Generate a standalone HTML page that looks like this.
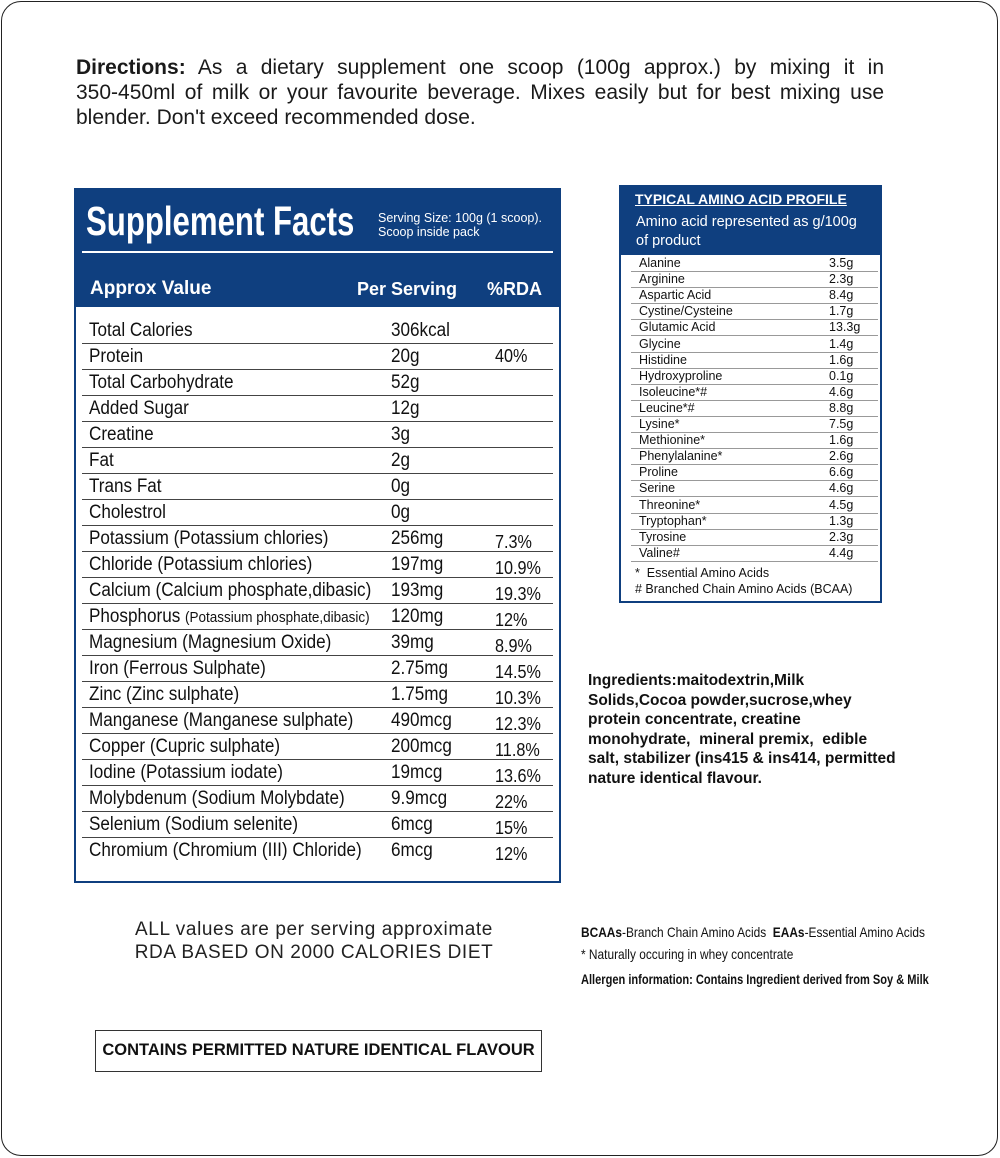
<!DOCTYPE html>
<html><head><meta charset="utf-8"><style>
body{margin:0;width:1000px;height:1158px;background:#fff;position:relative;overflow:hidden;font-family:"Liberation Sans",sans-serif;color:#111}
.a{position:absolute;white-space:nowrap}
.sx{transform-origin:left top}
</style></head><body>
<div class="a" style="left:1px;top:1px;width:995px;height:1153px;border:1.5px solid #222;border-radius:20px"></div>
<div class="a" style="left:76px;top:55px;width:808px;font-size:21px;line-height:25px;white-space:normal;text-align:justify;color:#1a1a1a"><b>Directions:</b> As a dietary supplement one scoop (100g approx.) by mixing it in <span style="white-space:nowrap">350-450ml</span> of milk or your favourite beverage. Mixes easily but for best mixing use blender. Don't exceed recommended dose.</div>

<div class="a" style="left:74px;top:188px;width:483px;height:691px;border:2px solid #0f3f7f"></div>
<div class="a" style="left:74px;top:188px;width:487px;height:119px;background:#0f3f7f"></div>
<div class="a sx" style="left:86px;top:198px;font-size:41px;font-weight:bold;color:#fff;transform:scaleX(0.76)">Supplement Facts</div>
<div class="a" style="left:378px;top:211px;font-size:12.5px;line-height:14px;color:#fff">Serving Size: 100g (1 scoop).<br>Scoop inside pack</div>
<div class="a" style="left:82px;top:251px;width:471px;height:1.5px;background:#fff"></div>
<div class="a" style="left:90px;top:278px;font-size:19px;font-weight:bold;color:#fff">Approx Value</div>
<div class="a" style="left:357px;top:279px;font-size:18px;font-weight:bold;color:#fff">Per Serving</div>
<div class="a" style="left:487px;top:279px;font-size:18px;font-weight:bold;color:#fff">%RDA</div>
<div id="facts"></div>

<div class="a" style="left:619px;top:185px;width:259px;height:414px;border:2px solid #0f3f7f"></div>
<div class="a" style="left:619px;top:185px;width:263px;height:70px;background:#0f3f7f"></div>
<div class="a" style="left:635px;top:191px;font-size:14px;font-weight:bold;color:#fff;text-decoration:underline">TYPICAL AMINO ACID PROFILE</div>
<div class="a" style="left:636px;top:213px;font-size:14.5px;line-height:19px;color:#fff">Amino acid represented as g/100g<br>of product</div>
<div id="amino"></div>
<div class="a" style="left:635px;top:566px;font-size:12.5px;line-height:15.5px">*&nbsp; Essential Amino Acids<br># Branched Chain Amino Acids (BCAA)</div>

<div class="a" style="left:588px;top:671px;width:310px;font-size:15.5px;line-height:19.6px;font-weight:bold;white-space:normal">Ingredients:maitodextrin,Milk Solids,Cocoa powder,sucrose,whey protein concentrate, creatine monohydrate,&nbsp; mineral premix,&nbsp; edible salt, stabilizer (ins415 &amp; ins414, permitted nature identical flavour.</div>

<div class="a" style="left:104px;top:918px;width:420px;text-align:center;font-size:19px;line-height:23px;letter-spacing:0.6px;color:#222">ALL values are per serving approximate<br>RDA BASED ON 2000 CALORIES DIET</div>
<div class="a sx" style="left:581px;top:921px;font-size:14px;line-height:22px;transform:scaleX(0.85)"><b>BCAAs</b>-Branch Chain Amino Acids&nbsp; <b>EAAs</b>-Essential Amino Acids<br>* Naturally occuring in whey concentrate</div>
<div class="a sx" style="left:581px;top:971px;font-size:14px;font-weight:bold;transform:scaleX(0.79)">Allergen information: Contains Ingredient derived from Soy &amp; Milk</div>

<div class="a" style="left:95px;top:1030px;width:445px;height:40px;border:1px solid #333"></div>
<div class="a" style="left:95px;top:1041px;width:447px;text-align:center;font-size:16.5px;font-weight:bold">CONTAINS PERMITTED NATURE IDENTICAL FLAVOUR</div>

<script>
const factNames=["Total Calories","Protein","Total Carbohydrate","Added Sugar","Creatine","Fat","Trans Fat","Cholestrol","Potassium (Potassium chlories)","Chloride (Potassium chlories)","Calcium (Calcium phosphate,dibasic)","Phosphorus <span style='font-size:15px'>(Potassium phosphate,dibasic)</span>","Magnesium (Magnesium Oxide)","Iron (Ferrous Sulphate)","Zinc (Zinc sulphate)","Manganese (Manganese sulphate)","Copper (Cupric sulphate)","Iodine (Potassium iodate)","Molybdenum (Sodium Molybdate)","Selenium (Sodium selenite)","Chromium (Chromium (III) Chloride)"];
const factValues=["306kcal","20g","52g","12g","3g","2g","0g","0g","256mg","197mg","193mg","120mg","39mg","2.75mg","1.75mg","490mcg","200mcg","19mcg","9.9mcg","6mcg","6mcg"];
const factRda=["","40%","","","","","","","7.3%","10.9%","19.3%","12%","8.9%","14.5%","10.3%","12.3%","11.8%","13.6%","22%","15%","12%"];
const aminoNames=["Alanine","Arginine","Aspartic Acid","Cystine/Cysteine","Glutamic Acid","Glycine","Histidine","Hydroxyproline","Isoleucine*#","Leucine*#","Lysine*","Methionine*","Phenylalanine*","Proline","Serine","Threonine*","Tryptophan*","Tyrosine","Valine#"];
const aminoValues=["3.5g","2.3g","8.4g","1.7g","13.3g","1.4g","1.6g","0.1g","4.6g","8.8g","7.5g","1.6g","2.6g","6.6g","4.6g","4.5g","1.3g","2.3g","4.4g"];
const f=document.getElementById('facts');
function mk(parent,style,html){const d=document.createElement('div');d.className='a';d.style.cssText=style;d.innerHTML=html;parent.appendChild(d);return d;}
const NS='transform:scaleX(0.9);transform-origin:left top;';
factNames.forEach((n,i)=>{
  const y=320+i*26;
  const a=mk(f,`left:89px;top:${y}px;font-size:19px;${NS}`,n);
  
  
  const b=mk(f,`left:391px;top:${y}px;font-size:19px;${NS}`,factValues[i]);
  
  
  const off=i===1?0:4;
  const c=mk(f,`left:495px;top:${y+off}px;font-size:18px;${NS}`,factRda[i]);
  
  
  if(i<factNames.length-1){
    const l=mk(f,`left:82px;top:${y+23}px;width:471px;height:1px;background:#444`,'');
    
    
  }
});
const am=document.getElementById('amino');
aminoNames.forEach((n,i)=>{
  const y=256+i*16.1;
  const a=mk(am,`left:639px;top:${y}px;font-size:12.5px`,n);
  
  
  const b=mk(am,`left:829px;top:${y}px;font-size:12.5px`,aminoValues[i]);
  
  
  const l=mk(am,`left:631px;top:${y+15}px;width:247px;height:1px;background:#999`,'');
  
  
});
</script>
</body></html>
